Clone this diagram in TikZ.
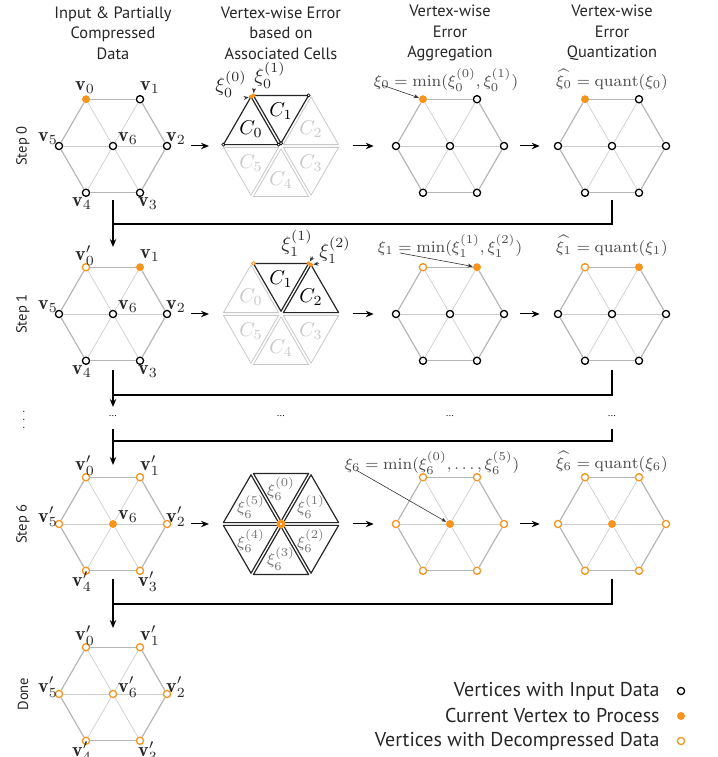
\documentclass[tikz,border=0pt]{standalone}
\usepackage{fontspec}
\usetikzlibrary{calc,positioning,arrows.meta}
\newfontfamily\headfont{PT Sans}

\definecolor{vorange}{RGB}{247,148,30}
\definecolor{rimgray}{RGB}{182,182,182}
\definecolor{spokegray}{RGB}{205,205,205}
\definecolor{cellgray}{RGB}{200,200,200}
\definecolor{mathgray}{RGB}{75,75,75}

\tikzset{
  vin/.style={circle, draw=black, fill=white, line width=0.65pt, inner sep=0pt, minimum size=3.6pt},
  vcur/.style={circle, fill=vorange, inner sep=0pt, minimum size=4pt},
  vdec/.style={circle, draw=vorange, fill=white, line width=0.65pt, inner sep=0pt, minimum size=3.6pt},
  sin/.style={circle, draw=black, fill=white, line width=0.3pt, inner sep=0pt, minimum size=1.6pt},
  scur/.style={circle, fill=vorange, inner sep=0pt, minimum size=2pt},
  sdec/.style={circle, draw=vorange, fill=white, line width=0.4pt, inner sep=0pt, minimum size=1.8pt},
  rim/.style={draw=rimgray, line width=0.6pt},
  spoke/.style={draw=spokegray, line width=0.35pt},
  hicell/.style={draw=black!85, line width=0.6pt, line join=round},
  locell/.style={draw=cellgray, line width=0.4pt, line join=round},
  flow/.style={-{Stealth[length=4pt,width=3.2pt]}, line width=0.5pt},
  loopline/.style={line width=0.55pt},
  pointer/.style={-{Stealth[length=2.5pt,width=2pt]}, line width=0.3pt, draw=black!80},
  head/.style={font=\headfont\fontsize{8.2}{10.25}\selectfont, text=black!85, align=center, inner sep=0pt},
  steplab/.style={font=\headfont\fontsize{7.3}{8}\selectfont, text=black!85, rotate=90, inner sep=0pt},
  vlab/.style={text=black!85, inner sep=0pt},
  formula/.style={font=\fontsize{8.2}{10}\selectfont, text=mathgray, inner sep=0pt},
  clab/.style={inner sep=0pt},
  legend/.style={font=\headfont\fontsize{10}{10}\selectfont, text=black!85, anchor=east, inner sep=0pt},
  gap/.style={font=\headfont\fontsize{5}{5}\selectfont, inner sep=0pt}
}

% hexagon mesh: #1 = centre, #2 = name prefix, #3 = styles of v0..v5, #4 = style of v6
\newcommand{\hexmesh}[4]{%
  \node[#4] (#26) at (#1) {};
  \foreach \k/\s in {#3} \node[\s] (#2\k) at ($(#1)+({120-60*\k}:54)$) {};
  \foreach \k [evaluate=\k as \j using {int(mod(\k+1,6))}] in {0,...,5} {
    \draw[rim] (#2\k) -- (#2\j);
    \draw[spoke] (#2\k) -- (#26);
  }
}

% vertex labels: #1 = name prefix, #2 = number of primed vertices
\newcommand{\vlabels}[2]{%
  \foreach \k/\dx/\dy in {0/-1/12,1/10/12,2/9/7,3/8/-11,4/-4/-11,5/-11/7,6/15/7}
    \node[vlab] (#1l\k) at ($(#1\k)+(\dx,\dy)$) {$\mathbf{v}\ifnum\k<#2^{\prime}\fi_{\k}$};
}

% associated cells: #1 = centre, #2 = name prefix, #3 = styles of C0..C5
\newcommand{\cellhex}[3]{%
  \foreach \k in {0,...,5} \coordinate (#2p\k) at ($(#1)+({120-60*\k}:60)$);
  \foreach \k/\s in {#3} {
    \pgfmathtruncatemacro{\j}{mod(\k+5,6)}
    \coordinate (#2m\k) at ($(#1)+({150-60*\k}:34.64)$);
    \coordinate (#2a\k) at ($(#2m\k)!0.92!(#2p\j)$);
    \coordinate (#2b\k) at ($(#2m\k)!0.92!(#2p\k)$);
    \coordinate (#2o\k) at ($(#2m\k)!0.92!(#1)$);
    \draw[\s] (#2a\k) -- (#2b\k) -- (#2o\k) -- cycle;
  }
}

\begin{document}
\begin{tikzpicture}[x=0.5pt, y=0.5pt]
\useasboundingbox (0,0) rectangle (718,757);

% --- column headers ---
\foreach \x/\txt in {113/{Input \& Partially\\Compressed\\Data},
                     281/{Vertex-wise Error\\based on\\Associated Cells},
                     450/{Vertex-wise\\Error\\Aggregation},
                     612/{Vertex-wise\\Error\\Quantization}}
  \node[head] (h\x) at (\x,724) {\txt};

% --- step labels ---
\foreach \y/\txt in {611/Step 0, 443/Step 1, 233/Step 6, 63/Done}
  \node[steplab] (s\y) at (23,\y) {\txt};

% --- Step 0 ---
\hexmesh{113,611}{in0}{0/vcur,1/vin,2/vin,3/vin,4/vin,5/vin}{vin}
\vlabels{in0}{0}
\cellhex{281,611}{cl0}{2/locell,3/locell,4/locell,5/locell,0/hicell,1/hicell}
\foreach \k in {0,1} \node[clab] (cn0\k) at (cl0m\k) {$C_\k$};
\foreach \k in {2,...,5} \node[clab, text=cellgray] (cn0\k) at (cl0m\k) {$C_\k$};
\node[sin] (sa0) at (cl0a0) {};
\node[sin] (sb0) at (cl0o0) {};
\node[sin] (sc0) at (cl0o1) {};
\node[sin] (sd0) at (cl0b1) {};
\node[scur] (x0a) at (cl0b0) {};
\node[scur] (x0b) at (cl0a1) {};
\node[vlab] (xl00) at (231,673) {$\xi_0^{(0)}$};
\node[vlab] (xl01) at (270,682) {$\xi_0^{(1)}$};
\draw[pointer] (xl00.south east) -- (x0a);
\draw[pointer] (xl01.south west) -- (x0b);
\hexmesh{450,611}{ag0}{0/vcur,1/vin,2/vin,3/vin,4/vin,5/vin}{vin}
\hexmesh{612,611}{qu0}{0/vcur,1/vin,2/vin,3/vin,4/vin,5/vin}{vin}
\node[formula] (fa0) at (446,677) {$\xi_0=\min(\xi_0^{(0)},\xi_0^{(1)})$};
\node[formula] (fq0) at (612,677) {$\widehat{\xi_0}=\mathrm{quant}(\xi_0)$};
\coordinate (pa0) at (382,672);
\draw[pointer] (pa0) -- (ag00);

\draw[flow, shorten <=10pt, shorten >=6pt] (in02) -- (cl0p5);
\draw[flow, shorten <=6pt, shorten >=9pt] (cl0p2) -- (ag05);
\draw[flow, shorten <=6pt, shorten >=7pt] (ag02) -- (qu05);

% --- Step 1 ---
\hexmesh{113,443}{in1}{0/vdec,1/vcur,2/vin,3/vin,4/vin,5/vin}{vin}
\vlabels{in1}{1}
\cellhex{281,443}{cl1}{0/locell,3/locell,4/locell,5/locell,1/hicell,2/hicell}
\foreach \k in {1,2} \node[clab] (cn1\k) at (cl1m\k) {$C_\k$};
\foreach \k in {0,3,4,5} \node[clab, text=cellgray] (cn1\k) at (cl1m\k) {$C_\k$};
\node[sdec] (x1o) at (cl1a1) {};
\node[scur] (x1a) at (cl1b1) {};
\node[scur] (x1b) at (cl1a2) {};
\node[vlab] (xl11) at (297,514) {$\xi_1^{(1)}$};
\node[vlab] (xl12) at (335,507) {$\xi_1^{(2)}$};
\draw[pointer] (xl11.south east) -- (x1a);
\draw[pointer] (xl12.south west) -- (x1b);
\hexmesh{450,443}{ag1}{0/vdec,1/vcur,2/vin,3/vin,4/vin,5/vin}{vin}
\hexmesh{612,443}{qu1}{0/vdec,1/vcur,2/vin,3/vin,4/vin,5/vin}{vin}
\node[formula] (fa1) at (450,511) {$\xi_1=\min(\xi_1^{(1)},\xi_1^{(2)})$};
\node[formula] (fq1) at (612,511) {$\widehat{\xi_1}=\mathrm{quant}(\xi_1)$};
\coordinate (pa1) at (400,504);
\draw[pointer] (pa1) -- (ag11);

\draw[flow, shorten <=10pt, shorten >=6pt] (in12) -- (cl1p5);
\draw[flow, shorten <=6pt, shorten >=9pt] (cl1p2) -- (ag15);
\draw[flow, shorten <=6pt, shorten >=7pt] (ag12) -- (qu15);

% --- skipped steps ---
\foreach \x [count=\i] in {113,281,450,612}
  \node[gap] (g\i) at (\x,341) {...};
\node[font=\fontsize{5}{5}\selectfont, inner sep=0pt] (vd) at (24,343) {$\vdots$};

% --- Step 6 ---
\hexmesh{113,233}{in6}{0/vdec,1/vdec,2/vdec,3/vdec,4/vdec,5/vdec}{vcur}
\vlabels{in6}{6}
\cellhex{281,233}{cl6}{0/hicell,1/hicell,2/hicell,3/hicell,4/hicell,5/hicell}
\foreach \k [evaluate=\k as \n using {int(mod(\k+5,6))}] in {0,...,5} {
  \node[clab, font=\footnotesize, text=black!55] (cn6\k) at (cl6m\k) {$\xi_6^{(\n)}$};
  \node[scur] (x6\k) at (cl6o\k) {};
}
\hexmesh{450,233}{ag6}{0/vdec,1/vdec,2/vdec,3/vdec,4/vdec,5/vdec}{vcur}
\hexmesh{612,233}{qu6}{0/vdec,1/vdec,2/vdec,3/vdec,4/vdec,5/vdec}{vcur}
\node[formula] (fa6) at (432,294) {$\xi_6=\min(\xi_6^{(0)},\ldots,\xi_6^{(5)})$};
\node[formula] (fq6) at (612,295) {$\widehat{\xi_6}=\mathrm{quant}(\xi_6)$};
\coordinate (pa6) at (356,287);
\draw[pointer] (pa6) -- (ag66);

\draw[flow, shorten <=10pt, shorten >=6pt] (in62) -- (cl6p5);
\draw[flow, shorten <=6pt, shorten >=9pt] (cl6p2) -- (ag65);
\draw[flow, shorten <=6pt, shorten >=7pt] (ag62) -- (qu65);

% --- Done ---
\hexmesh{113,63}{inD}{0/vdec,1/vdec,2/vdec,3/vdec,4/vdec,5/vdec}{vdec}
\vlabels{inD}{7}

% --- loops back to the first column ---
\foreach \a/\b/\c/\d in {557/533/510/0, 387/362/350/1, 328/316/292/6, 178/153/129/D} {
  \coordinate (qo\d) at (612,\a);
  \coordinate (io\d) at (113,\a);
  \coordinate (jn\d) at (113,\b);
  \coordinate (tp\d) at (113,\c);
  \draw[loopline] (io\d) -- (jn\d);
  \draw[flow, line width=0.55pt] (qo\d) |- (jn\d) -- (tp\d);
}

% --- legend ---
\foreach \y/\s/\txt [count=\i] in {66/vin/Vertices with Input Data,
                                   41/vcur/Current Vertex to Process,
                                   16/vdec/Vertices with Decompressed Data} {
  \node[legend] (lt\i) at (660,\y) {\txt};
  \node[\s] (ls\i) at (681,\y) {};
}

\end{tikzpicture}
\end{document}
